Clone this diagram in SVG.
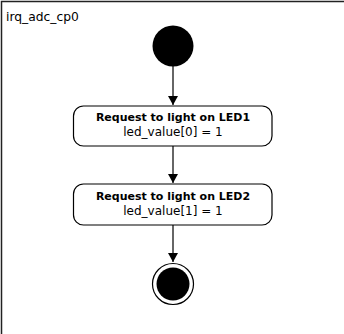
<svg xmlns="http://www.w3.org/2000/svg" width="344" height="334" viewBox="0 0 344 334">
<style>
.frame{fill:none;stroke:#222;stroke-width:1.5}
.box{fill:#fff;stroke:#000;stroke-width:1.2}
.conn{stroke:#333;stroke-width:1.5;fill:none}
.t{font-family:"DejaVu Sans",Verdana,sans-serif;font-size:12px;fill:#000;text-anchor:middle}
.b{font-weight:bold;font-size:11px}
.title{font-family:"DejaVu Sans",Verdana,sans-serif;font-size:12.3px;fill:#000}
</style>
<defs>
<marker id="ah" markerWidth="9" markerHeight="10" refX="9" refY="5" orient="auto" markerUnits="userSpaceOnUse">
<path d="M0,0 L9,5 L0,10 z" fill="#000"/>
</marker>
</defs>
<rect width="344" height="334" fill="#fff"/>
<g id="frame">
<path class="frame" d="M1.5,345 V1.5 H350"/>
<text class="title" x="6" y="21">irq_adc_cp0</text>
</g>
<g id="connectors">
<line class="conn" x1="173" y1="66" x2="173" y2="105" marker-end="url(#ah)"/>
<line class="conn" x1="173" y1="146" x2="173" y2="183" marker-end="url(#ah)"/>
<line class="conn" x1="173" y1="225" x2="173" y2="262" marker-end="url(#ah)"/>
</g>
<g id="start">
<circle cx="173" cy="46" r="20.5" fill="#000"/>
</g>
<g id="node1">
<rect class="box" x="73.5" y="106" width="198.5" height="40" rx="10"/>
<text class="t b" x="173" y="121">Request to light on LED1</text>
<text class="t" x="173" y="136">led_value[0] = 1</text>
</g>
<g id="node2">
<rect class="box" x="73.5" y="184" width="198.5" height="41" rx="10"/>
<text class="t b" x="173" y="200">Request to light on LED2</text>
<text class="t" x="173" y="215">led_value[1] = 1</text>
</g>
<g id="end">
<circle cx="173" cy="284" r="20.5" fill="#fff" stroke="#000" stroke-width="1.2"/>
<circle cx="173" cy="284" r="16.5" fill="#000"/>
</g>
</svg>
